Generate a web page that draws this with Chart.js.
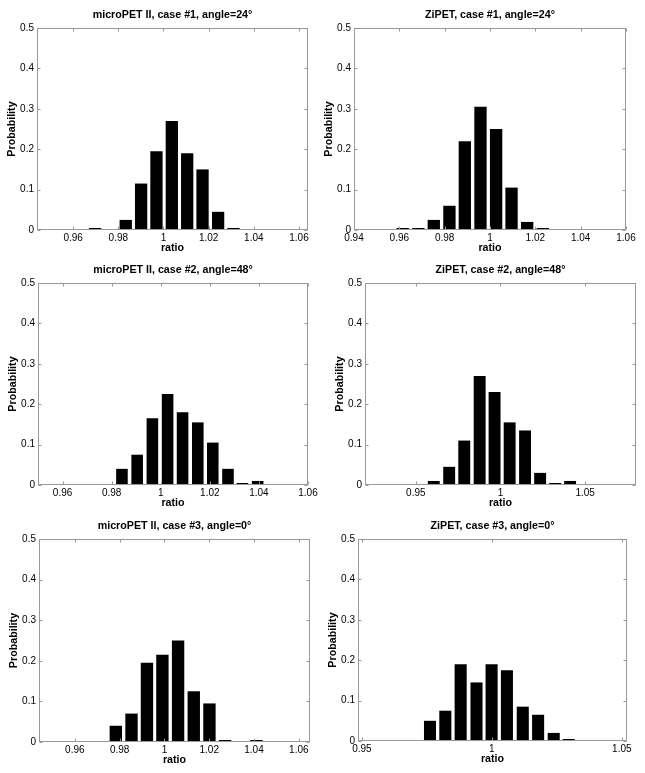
<!DOCTYPE html>
<html>
<head>
<meta charset="utf-8">
<script src="https://cdn.jsdelivr.net/npm/chart.js@4.4.1/dist/chart.umd.min.js"></script>
<style>
    html, body { margin: 0; padding: 0; background: #fff; overflow: hidden; }
    body { width: 645px; height: 773px; position: relative; }
    canvas { position: absolute; }
</style>
</head>
<body>
<canvas id="c1"></canvas>
<canvas id="c2"></canvas>
<canvas id="c3"></canvas>
<canvas id="c4"></canvas>
<canvas id="c5"></canvas>
<canvas id="c6"></canvas>
<script>
// bin centres (ratio) and probabilities
const micro1Bins = [0.9697, 0.9765, 0.9833, 0.9901, 0.9969, 1.0037, 1.0105, 1.0173, 1.0242, 1.0310];
const micro1Prob = [0.005, 0, 0.025, 0.115, 0.195, 0.27, 0.19, 0.15, 0.045, 0.005];

const zipet1Bins = [0.9615, 0.9684, 0.9752, 0.9821, 0.9889, 0.9958, 1.0027, 1.0095, 1.0164, 1.0233];
const zipet1Prob = [0.005, 0.005, 0.025, 0.06, 0.22, 0.305, 0.25, 0.105, 0.02, 0.005];

const micro2Bins = [0.9842, 0.9904, 0.9966, 1.0028, 1.0089, 1.0151, 1.0212, 1.0274, 1.0333, 1.0395];
const micro2Prob = [0.04, 0.075, 0.165, 0.225, 0.18, 0.155, 0.105, 0.04, 0.005, 0.01];

const zipet2Bins = [0.9606, 0.9697, 0.9786, 0.9877, 0.9965, 1.0054, 1.0145, 1.0234, 1.0323, 1.0411];
const zipet2Prob = [0.01, 0.045, 0.11, 0.27, 0.23, 0.155, 0.135, 0.03, 0.005, 0.01];

const micro3Bins = [0.9783, 0.9853, 0.9922, 0.9991, 1.0061, 1.0131, 1.0201, 1.0271, 1.0341, 1.0411];
const micro3Prob = [0.04, 0.07, 0.195, 0.215, 0.25, 0.125, 0.095, 0.005, 0, 0.005];

const zipet3Bins = [0.9762, 0.9821, 0.9880, 0.9941, 0.9999, 1.0058, 1.0119, 1.0178, 1.0238, 1.0296];
const zipet3Prob = [0.05, 0.075, 0.19, 0.145, 0.19, 0.175, 0.085, 0.065, 0.02, 0.005];

// tick values
const ratioTicksA = [0.96, 0.98, 1, 1.02, 1.04, 1.06];
const ratioTicksB = [0.94, 0.96, 0.98, 1, 1.02, 1.04, 1.06];
const ratioTicksC = [0.95, 1, 1.05];
const probTicks = [0, 0.1, 0.2, 0.3, 0.4, 0.5];
const probLabels = ['0', '0.1', '0.2', '0.3', '0.4', '0.5'];

const FONT = '"Liberation Sans", Arial, Helvetica, sans-serif';
const ML = 38, MR = 20, MT = 28, MB = 26;
const frameColor = '#999';

const panels = [
    {id: 'c1', title: 'microPET II, case #1, angle=24°', bins: micro1Bins, prob: micro1Prob, xMin: 0.944, xMax: 1.064, ticks: ratioTicksA, box: [37, 28, 308, 230]},
    {id: 'c2', title: 'ZiPET, case #1, angle=24°', bins: zipet1Bins, prob: zipet1Prob, xMin: 0.94, xMax: 1.06, ticks: ratioTicksB, box: [354, 28, 626, 230]},
    {id: 'c3', title: 'microPET II, case #2, angle=48°', bins: micro2Bins, prob: micro2Prob, xMin: 0.95, xMax: 1.06, ticks: ratioTicksA, box: [38, 283, 308, 485]},
    {id: 'c4', title: 'ZiPET, case #2, angle=48°', bins: zipet2Bins, prob: zipet2Prob, xMin: 0.92, xMax: 1.08, ticks: ratioTicksC, box: [365, 283, 636, 485]},
    {id: 'c5', title: 'microPET II, case #3, angle=0°', bins: micro3Bins, prob: micro3Prob, xMin: 0.944, xMax: 1.065, ticks: ratioTicksA, box: [39, 539, 310, 742]},
    {id: 'c6', title: 'ZiPET, case #3, angle=0°', bins: zipet3Bins, prob: zipet3Prob, xMin: 0.9485, xMax: 1.052, ticks: ratioTicksC, box: [358, 539, 627, 741]}
];

// matlab style box with inward ticks on all four sides
const boxPlugin = {
    id: 'box',
    afterDatasetsDraw(chart) {
        const {ctx, chartArea: a, scales} = chart;
        const left = Math.round(a.left) + 0.5, right = Math.round(a.right) - 0.5;
        const top = Math.round(a.top) + 0.5, bottom = Math.round(a.bottom) - 0.5;
        ctx.save();
        ctx.strokeStyle = frameColor;
        ctx.lineWidth = 1;
        ctx.beginPath();
        scales.x.ticks.forEach(t => {
            const px = Math.round(scales.x.getPixelForValue(t.value)) + 0.5;
            ctx.moveTo(px, bottom); ctx.lineTo(px, bottom - 3);
            ctx.moveTo(px, top); ctx.lineTo(px, top + 3);
        });
        scales.y.ticks.forEach(t => {
            const py = Math.round(scales.y.getPixelForValue(t.value)) + 0.5;
            ctx.moveTo(left, py); ctx.lineTo(left + 3, py);
            ctx.moveTo(right, py); ctx.lineTo(right - 3, py);
        });
        ctx.stroke();
        ctx.strokeRect(left, top, right - left, bottom - top);
        ctx.restore();
    }
};

const makePanel = (p) =>
{
    const [L, T, R, B] = p.box;
    const canvas = document.getElementById(p.id);
    canvas.width = (R - L) + ML + MR;
    canvas.height = (B - T) + MT + MB;
    canvas.style.left = (L - ML) + 'px';
    canvas.style.top = (T - MT) + 'px';
    canvas.style.width = canvas.width + 'px';
    canvas.style.height = canvas.height + 'px';

    const tickFont = {family: FONT, size: 10};
    const boldFont = {family: FONT, size: 10.7, weight: 'bold'};

    return new Chart(canvas, {
        type: 'bar',
        data: {
            datasets: [{
                data: p.bins.map((x, i) => ({x: x, y: p.prob[i]})),
                backgroundColor: '#000',
                borderWidth: 0,
                barPercentage: 0.8,
                categoryPercentage: 1
            }]
        },
        options: {
            responsive: false,
            animation: false,
            devicePixelRatio: 1,
            layout: {padding: {left: 0, right: MR, top: 0, bottom: 0}},
            plugins: {
                legend: {display: false},
                tooltip: {enabled: false},
                title: {
                    display: true,
                    fullSize: false,
                    text: p.title,
                    color: '#000',
                    font: boldFont,
                    padding: {top: 8.6, bottom: 6.6}
                }
            },
            scales: {
                x: {
                    type: 'linear',
                    min: p.xMin,
                    max: p.xMax,
                    offset: false,
                    grid: {display: false, drawTicks: false, offset: false},
                    border: {display: false},
                    afterBuildTicks: (s) => { s.ticks = p.ticks.map(v => ({value: v})); },
                    afterFit: (s) => { s.height = MB; s.paddingLeft = 0; s.paddingRight = 0; },
                    ticks: {
                        padding: 2,
                        maxRotation: 0,
                        autoSkip: false,
                        color: '#000',
                        font: tickFont,
                        callback: (v, i) => String(p.ticks[i])
                    },
                    title: {display: true, text: 'ratio', color: '#000', font: boldFont, padding: {top: 0, bottom: 1.6}}
                },
                y: {
                    type: 'linear',
                    min: 0,
                    max: 0.5,
                    grid: {display: false, drawTicks: false},
                    border: {display: false},
                    afterBuildTicks: (s) => { s.ticks = probTicks.map(v => ({value: v})); },
                    afterFit: (s) => { s.width = ML; s.paddingTop = 0; s.paddingBottom = 0; },
                    ticks: {
                        padding: 3,
                        color: '#000',
                        font: tickFont,
                        callback: (v, i) => probLabels[i]
                    },
                    title: {display: true, text: 'Probability', color: '#000', font: boldFont, padding: {top: 6.5, bottom: 0}}
                }
            }
        },
        plugins: [boxPlugin]
    });
}

panels.forEach(makePanel);
</script>
</body>
</html>
